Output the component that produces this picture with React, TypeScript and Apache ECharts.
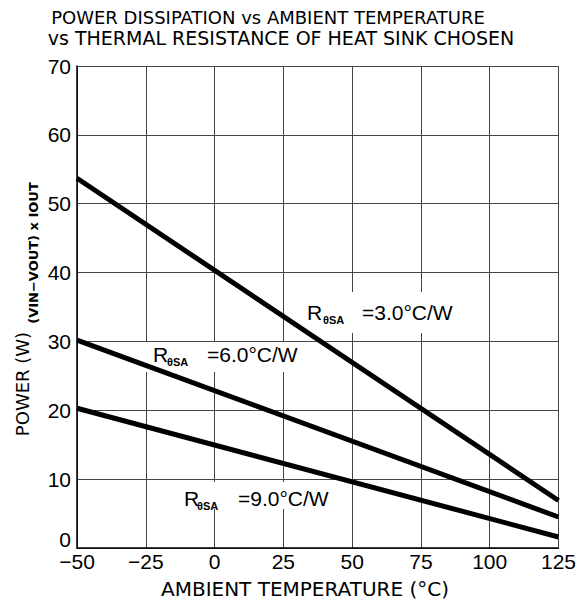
import React, { useEffect, useRef } from "react";
import * as echarts from "echarts";

const xTicks = [-50, -25, 0, 25, 50, 75, 100, 125];
const yTicks = [0, 10, 20, 30, 40, 50, 60, 70];
const seriesNames = ["RθSA=3.0°C/W", "RθSA=6.0°C/W", "RθSA=9.0°C/W"];
const tempPoints = [-50, 125];
const power30 = [53.7, 6.9];
const power60 = [30.2, 4.5];
const power90 = [20.3, 1.6];
const labelValues = ["=3.0°C/W", "=6.0°C/W", "=9.0°C/W"];

const LABEL_FONT = "21px 'Liberation Sans', Arial, sans-serif";
const SUB_FONT = "bold 11px 'Liberation Sans', Arial, sans-serif";

function txt(x: number, y: number, text: string, font: string, align = "center", extra: any = {}, lineHeight?: number) {
  const style: any = { text, font, fill: "#000", textAlign: align, textVerticalAlign: "middle", align, verticalAlign: "middle" };
  if (lineHeight) style.lineHeight = lineHeight;
  return { type: "text", z: 3, x, y, ...extra, style };
}

function labelGroup(rx: number, ry: number, rw: number, rh: number, rX: number, cy: number, sX: number, eqX: number, text: string) {
  return {
    type: "group",
    children: [
      { type: "rect", z: 1, shape: { x: rx, y: ry, width: rw, height: rh }, style: { fill: "#fff" } },
      txt(rX, cy, "R", LABEL_FONT, "left"),
      txt(sX, cy + 8, "θSA", SUB_FONT, "left"),
      txt(eqX, cy, text, LABEL_FONT, "left"),
    ],
  };
}

export default function App() {
  const ref = useRef<HTMLDivElement>(null);
  useEffect(() => {
    if (!ref.current) return;
    const chart = echarts.init(ref.current, null, { renderer: "svg" });
    const mk = (vals: number[]) => tempPoints.map((t, i) => [t, vals[i]]);
    chart.setOption({
      animation: false,
      backgroundColor: "#fff",
      grid: { left: 77, right: 18, top: 66, bottom: 53, containLabel: false },
      xAxis: {
        type: "value",
        min: xTicks[0],
        max: xTicks[xTicks.length - 1],
        interval: 25,
        axisLine: { show: true, onZero: false, lineStyle: { color: "#000", width: 1.5 } },
        axisTick: { show: false },
        axisLabel: {
          margin: 3,
          color: "#000",
          fontFamily: "Liberation Sans",
          fontSize: 21,
          formatter: (v: number) => (v < 0 ? "\u2212" + Math.abs(v) : String(v)),
          showMinLabel: true,
          showMaxLabel: true,
        },
        splitLine: { show: true, lineStyle: { color: "#444", width: 1 } },
      },
      yAxis: {
        type: "value",
        min: yTicks[0],
        max: yTicks[yTicks.length - 1],
        interval: 10,
        axisLine: { show: true, onZero: false, lineStyle: { color: "#000", width: 1.5 } },
        axisTick: { show: false },
        axisLabel: {
          margin: 6,
          color: "#000",
          fontFamily: "Liberation Sans",
          fontSize: 21,
          showMinLabel: false,
        },
        splitLine: { show: true, lineStyle: { color: "#444", width: 1 } },
      },
      series: [power30, power60, power90].map((vals, i) => ({
        name: seriesNames[i],
        type: "line",
        data: mk(vals),
        symbol: "none",
        z: 2,
        lineStyle: { color: "#000", width: 5 },
      })),
      graphic: [
        txt(268, 17, "POWER DISSIPATION vs AMBIENT TEMPERATURE", "18px 'DejaVu Sans'"),
        txt(281, 38, "vs THERMAL RESISTANCE OF HEAT SINK CHOSEN", "19px 'DejaVu Sans'"),
        txt(305, 589, "AMBIENT TEMPERATURE (°C)", "20px 'DejaVu Sans'"),
        txt(22, 384, "POWER (W)", "18px 'DejaVu Sans'", "center", { rotation: Math.PI / 2 }),
        txt(33, 253, "(VIN\u2212VOUT) x IOUT", "bold 13px 'DejaVu Sans'", "center", { rotation: Math.PI / 2 }),
        txt(71, 539, String(yTicks[0]), "21px 'Liberation Sans'", "right", {}, 15),
        labelGroup(298, 292, 172, 41, 307, 312, 323, 362, labelValues[0]),
        labelGroup(145, 342, 167, 30, 153, 354, 167, 207, labelValues[1]),
        labelGroup(178, 482, 167, 27, 184, 498, 197, 238, labelValues[2]),
      ],
    });
    return () => chart.dispose();
  }, []);
  return <div ref={ref} style={{ width: 579, height: 601, position: "absolute", left: 0, top: 0 }} />;
}
